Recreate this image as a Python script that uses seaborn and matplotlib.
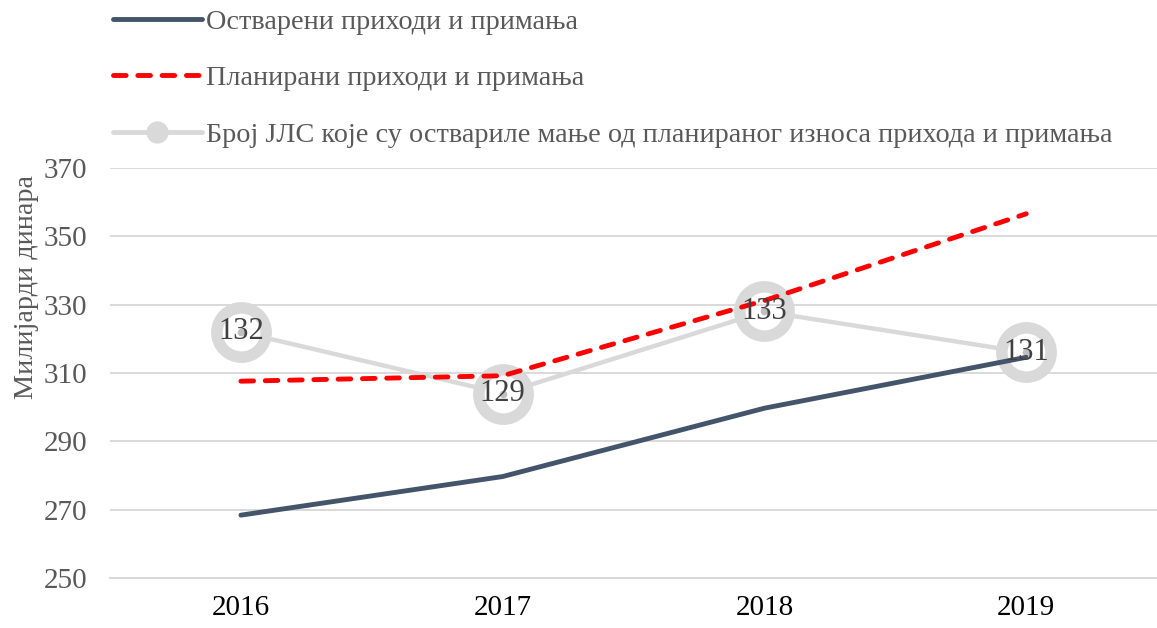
import numpy as np
import pandas as pd
import matplotlib
matplotlib.use('Agg')
import matplotlib.pyplot as plt
from matplotlib.lines import Line2D
from matplotlib.ticker import FixedLocator
import seaborn as sns

# data
years = ['2016', '2017', '2018', '2019']
realized = [268.4, 279.7, 299.7, 314.6]      # остварени, млрд динара
planned = [307.6, 309.2, 331.2, 356.6]       # планирани, млрд динара
jls_count = [132, 129, 133, 131]             # број ЈЛС (секундарна оса)

lab_real = 'Остварени приходи и примања'
lab_plan = 'Планирани приходи и примања'
lab_jls = 'Број ЈЛС које су оствариле мање од планираног износа прихода и примања'

sns.set_style('white')
plt.rcParams['font.family'] = ['Liberation Serif', 'DejaVu Serif']

txt_grey = '#595959'
grid_grey = '#D9D9D9'
blue = '#44546A'
red = '#FF0000'
dash = (0, (2.6, 2.4))

fig = plt.figure(figsize=(11.57, 6.28), dpi=100)
ax = fig.add_axes([0.0951, 0.0796, 0.905, 0.6529])
ax2 = ax.twinx()
ax2.set_zorder(ax.get_zorder() - 1)
ax.patch.set_visible(False)

df = pd.DataFrame({'year': years, 'real': realized, 'plan': planned, 'jls': jls_count})

# secondary series (grey, behind)
sns.lineplot(data=df, x='year', y='jls', ax=ax2, color=grid_grey, linewidth=3.2,
             marker='o', markersize=35.5, markerfacecolor='white',
             markeredgecolor=grid_grey, markeredgewidth=8.3, legend=False)
ax2.scatter(range(len(years)), jls_count, s=20, color='#BFBFBF', zorder=5)
ax2.set_ylim(120, 140)
ax2.set_axis_off()

sns.lineplot(data=df, x='year', y='real', ax=ax, color=blue, linewidth=3.5, legend=False)
sns.lineplot(data=df, x='year', y='plan', ax=ax, color=red, linewidth=3.5,
             linestyle=dash, legend=False)
for ln in ax.lines:
    ln.set_solid_capstyle('round')
    ln.set_dash_capstyle('round')

# data labels on top of everything
for i, v in enumerate(jls_count):
    y = 250 + (v - 120) * 6
    ax.text(i, y, str(v), ha='center', va='center', fontsize=22, color='#404040', zorder=10)

ax.set_ylim(250, 370)
ax.set_xlim(-0.5, 3.5)
ax.set_yticks(np.arange(250, 371, 20))
ax.yaxis.grid(True, color=grid_grey, linewidth=1.4)
ax.xaxis.grid(False)
ax.set_axisbelow(True)
for s in ['top', 'right', 'left']:
    ax.spines[s].set_visible(False)
ax.spines['bottom'].set_color(grid_grey)
ax.spines['bottom'].set_linewidth(1.4)

ax.tick_params(axis='y', length=0, pad=16.5, labelsize=21, labelcolor=txt_grey)
ax.tick_params(axis='x', which='major', length=0, pad=12, labelsize=21, labelcolor='black')
ax.xaxis.set_minor_locator(FixedLocator(np.arange(-0.5, 3.6, 1)))
ax.tick_params(axis='x', which='minor', length=6, width=1.4, color=grid_grey)
ax.set_xlabel('')
ax.set_ylabel('Милијарди динара', fontsize=20.3, color=txt_grey)
ax.yaxis.set_label_coords(-0.068, 0.71)

handles = [
    Line2D([], [], color=blue, linewidth=3.5, solid_capstyle='round'),
    Line2D([], [], color=red, linewidth=3.5, linestyle=dash, dash_capstyle='round'),
    Line2D([], [], color=grid_grey, linewidth=3.5, marker='o', markersize=15,
           markerfacecolor=grid_grey, markeredgecolor=grid_grey),
]
leg = fig.legend(handles, [lab_real, lab_plan, lab_jls], loc='upper left',
                 bbox_to_anchor=(0.095, 0.99), frameon=False, fontsize=20.3,
                 handlelength=3.15, handletextpad=0.15, labelspacing=1.09,
                 borderpad=0.1, borderaxespad=0)
for t in leg.get_texts():
    t.set_color(txt_grey)

fig.savefig('out.png', dpi=100)
